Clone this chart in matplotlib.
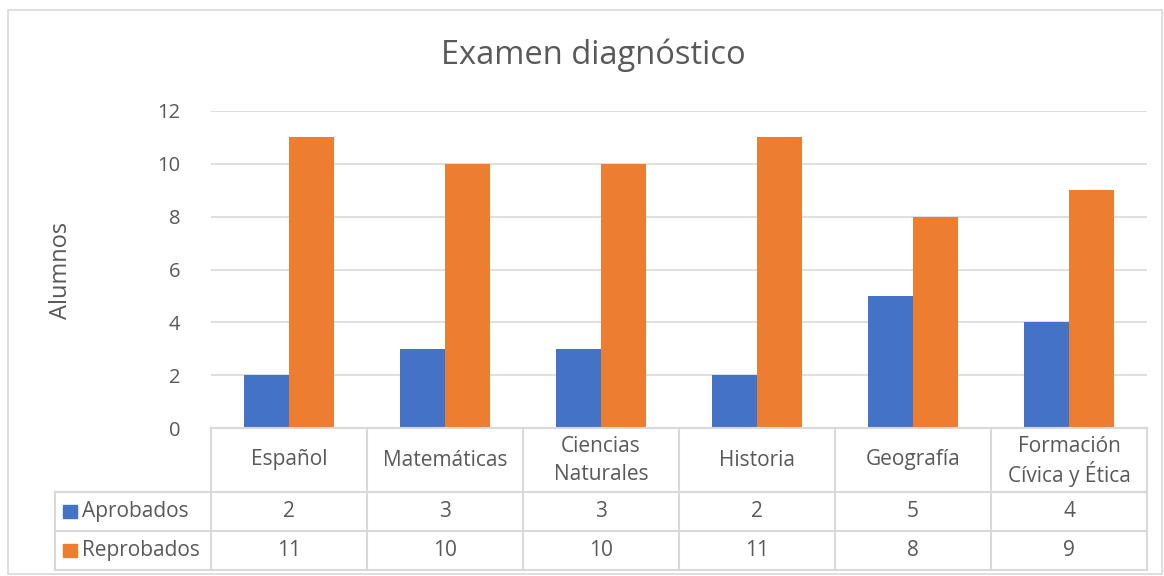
import matplotlib.pyplot as plt
from matplotlib.patches import Rectangle
import numpy as np

plt.rcParams['font.family'] = ['Open Sans', 'DejaVu Sans']

materias = ['Español', 'Matemáticas', 'Ciencias\nNaturales', 'Historia',
            'Geografía', 'Formación\nCívica y Ética']
aprobados = [2, 3, 3, 2, 5, 4]
reprobados = [11, 10, 10, 11, 8, 9]
series = ['Aprobados', 'Reprobados']
colores = ['#4472C4', '#ED7D31']
texto = '#595959'
linea = '#d9d9d9'

W, H = 1164, 576
fig = plt.figure(figsize=(W / 100, H / 100), dpi=100)

# borde del grafico
fig.patches.append(Rectangle((8 / W, 2 / H), (W - 10) / W, (H - 12) / H,
                             transform=fig.transFigure, fill=False,
                             edgecolor=linea, linewidth=1.2))

x0, x1 = 211, 1147
ax = fig.add_axes([x0 / W, (H - 428) / H, (x1 - x0) / W, (428 - 111) / H])
x = np.arange(len(materias))
w = 0.29
ax.bar(x - w / 2, aprobados, w, color=colores[0], zorder=3)
ax.bar(x + w / 2, reprobados, w, color=colores[1], zorder=3)
ax.set_xlim(-0.5, len(materias) - 0.5)
ax.set_ylim(0, 12)
ax.set_yticks(range(0, 13, 2))
ax.yaxis.grid(True, color=linea, linewidth=1.2, zorder=0)
ax.set_xticks([])
for s in ax.spines.values():
    s.set_visible(False)
ax.tick_params(axis='y', length=0, labelsize=14.5, labelcolor=texto, pad=22)
fig.text(61 / W, 1 - 270 / H, 'Alumnos', rotation=90, ha='center',
         va='center', fontsize=17, color=texto)
fig.text(593 / W, 1 - 55 / H, 'Examen diagnóstico', ha='center',
         va='center', fontsize=23.5, color=texto)

# tabla de datos
tax = fig.add_axes([x0 / W, (H - 570) / H, (x1 - x0) / W, (570 - 428) / H])
tax.set_xlim(-0.5, len(materias) - 0.5)
tax.set_ylim(142, 0)
tax.axis('off')
lk = dict(color=linea, linewidth=1.5, clip_on=False)
n = len(materias)
tax.plot([-0.5, n - 0.5], [0, 0], **lk)
for yy in [64, 103, 142]:
    tax.plot([-1.5, n - 0.5], [yy, yy], **lk)
for i in range(n + 1):
    tax.plot([i - 0.5, i - 0.5], [0, 142], **lk)
tax.plot([-1.5, -1.5], [64, 142], **lk)

fs = 15
for i, m in enumerate(materias):
    partes = m.split('\n')
    k = len(partes)
    for j, p in enumerate(partes):
        yy = 32 + (j - (k - 1) / 2) * 28
        tax.text(i, yy, p, ha='center', va='center', fontsize=fs,
                 color=texto)
filas = [aprobados, reprobados]
for r, (nombre, vals, c) in enumerate(zip(series, filas, colores)):
    yc = 83.5 + 39 * r
    tax.add_patch(Rectangle((-1.45, yc - 6.5), 0.09, 13, color=c,
                            clip_on=False))
    tax.text(-1.325, yc, nombre, ha='left', va='center', fontsize=fs,
             color=texto)
    for i, v in enumerate(vals):
        tax.text(i, yc, str(v), ha='center', va='center', fontsize=fs,
                 color=texto)

fig.savefig('out.png', dpi=100)
